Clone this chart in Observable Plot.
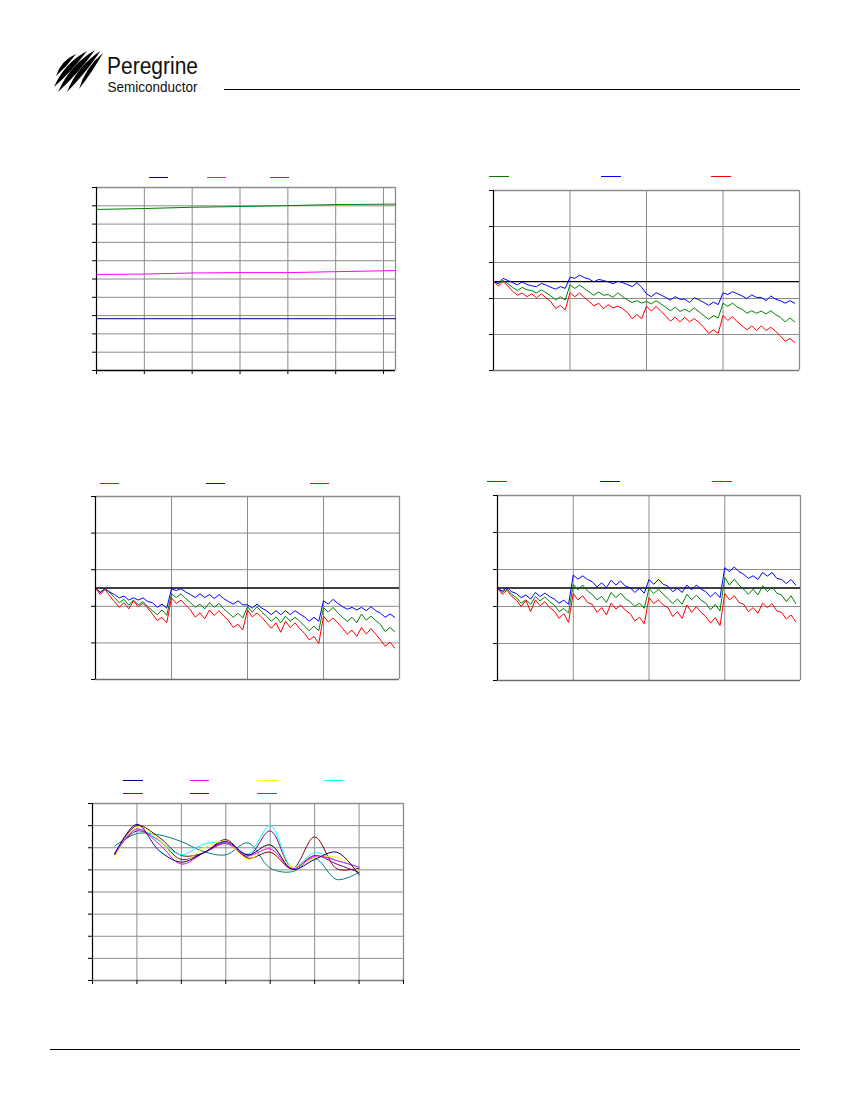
<!DOCTYPE html>
<html><head><meta charset="utf-8">
<script src="https://cdn.jsdelivr.net/npm/d3@7"></script>
<script src="https://cdn.jsdelivr.net/npm/@observablehq/plot@0.6"></script>
<style>
html,body{margin:0;padding:0;background:#fff;}
#page{position:relative;width:850px;height:1100px;overflow:hidden;background:#fff;}
.chart{position:absolute;}
.sw{position:absolute;height:0;border-top:1.4px solid;}
</style></head><body><div id="page">
<svg id="hdr" width="850" height="1100" style="position:absolute;left:0;top:0">
  <g id="wing" fill="#000"></g>
  <text x="107" y="73.5" font-family="'Liberation Sans Narrow','Arial Narrow','Liberation Sans',sans-serif" font-size="23" textLength="91" lengthAdjust="spacingAndGlyphs" fill="#111">Peregrine</text>
  <text x="107.5" y="92" font-family="'Liberation Sans Narrow','Arial Narrow','Liberation Sans',sans-serif" font-size="14.5" textLength="90" lengthAdjust="spacingAndGlyphs" fill="#111">Semiconductor</text>
  <line x1="224" y1="89.5" x2="800" y2="89.5" stroke="#000" stroke-width="1"/>
  <line x1="50" y1="1049.5" x2="800" y2="1049.5" stroke="#000" stroke-width="1"/>
</svg>
</div>
<script>
// ---------- Chart 1 (top left) ----------
const c1X = [0, 1, 2, 3, 4, 5, 6.25];
const c1Navy = [2.83, 2.83, 2.83, 2.83, 2.83, 2.83, 2.83];
const c1Magenta = [5.25, 5.27, 5.33, 5.35, 5.35, 5.40, 5.46];
const c1Green = [8.80, 8.85, 8.92, 8.96, 9.01, 9.07, 9.09];
const c1YTicks = [0, 1, 2, 3, 4, 5, 6, 7, 8, 9, 10];
const c1XTicks = [0, 1, 2, 3, 4, 5, 6];

// ---------- Chart 2 (top right) ----------
const c2Green = [2.47, 2.41, 2.50, 2.41, 2.31, 2.22, 2.31, 2.24, 2.22, 2.15, 2.24, 2.16, 2.07, 1.96, 2.05, 1.96,
  2.38, 2.28, 2.37, 2.28, 2.18, 2.09, 2.18, 2.09, 2.11, 2.03, 2.16, 2.05, 1.96, 1.89, 1.94, 1.87,
  1.92, 1.85, 1.94, 1.85, 1.76, 1.66, 1.76, 1.64, 1.70, 1.63, 1.74, 1.63, 1.52, 1.42, 1.52, 1.46,
  1.87, 1.78, 1.87, 1.76, 1.70, 1.59, 1.66, 1.59, 1.65, 1.57, 1.66, 1.55, 1.48, 1.35, 1.46, 1.35];
const c2Blue = [2.47, 2.42, 2.56, 2.50, 2.44, 2.38, 2.46, 2.39, 2.35, 2.33, 2.42, 2.37, 2.31, 2.26, 2.33, 2.28,
  2.59, 2.56, 2.65, 2.58, 2.54, 2.46, 2.53, 2.50, 2.46, 2.41, 2.48, 2.44, 2.39, 2.33, 2.44, 2.31,
  2.13, 2.05, 2.16, 2.10, 2.03, 1.96, 2.05, 1.98, 1.98, 1.89, 2.02, 1.96, 1.89, 1.81, 1.90, 1.83,
  2.16, 2.11, 2.19, 2.13, 2.07, 2.00, 2.10, 2.03, 2.03, 1.94, 2.07, 1.98, 1.94, 1.87, 1.94, 1.87];
const c2Red = [2.47, 2.35, 2.47, 2.35, 2.20, 2.09, 2.15, 2.05, 2.13, 2.02, 2.13, 2.02, 1.91, 1.72, 1.81, 1.68,
  2.16, 2.05, 2.15, 2.03, 1.92, 1.79, 1.87, 1.72, 1.83, 1.74, 1.79, 1.72, 1.61, 1.44, 1.55, 1.44,
  1.79, 1.65, 1.78, 1.65, 1.52, 1.37, 1.48, 1.35, 1.48, 1.35, 1.44, 1.33, 1.20, 1.03, 1.13, 1.03,
  1.53, 1.39, 1.50, 1.35, 1.24, 1.13, 1.24, 1.11, 1.24, 1.11, 1.20, 1.09, 0.96, 0.81, 0.89, 0.78];
const c2Ref = 2.47;

// ---------- Chart 3 (middle left) ----------
const c3Green = [2.50, 2.39, 2.48, 2.37, 2.24, 2.10, 2.19, 2.03, 2.17, 2.04, 2.13, 1.99, 1.88, 1.77, 1.90, 1.75,
  2.34, 2.24, 2.34, 2.21, 2.10, 1.97, 2.06, 1.93, 2.10, 1.97, 2.08, 1.93, 1.82, 1.70, 1.81, 1.68,
  1.99, 1.84, 1.99, 1.84, 1.73, 1.59, 1.71, 1.55, 1.73, 1.59, 1.70, 1.59, 1.46, 1.33, 1.46, 1.33,
  1.97, 1.84, 1.97, 1.82, 1.70, 1.59, 1.70, 1.55, 1.79, 1.62, 1.73, 1.61, 1.50, 1.31, 1.42, 1.31];
const c3Blue = [2.50, 2.37, 2.48, 2.39, 2.32, 2.23, 2.28, 2.17, 2.23, 2.17, 2.23, 2.13, 2.10, 1.97, 2.06, 1.95,
  2.48, 2.43, 2.48, 2.39, 2.32, 2.24, 2.34, 2.24, 2.32, 2.21, 2.32, 2.21, 2.13, 2.06, 2.15, 2.04,
  2.04, 1.95, 2.06, 1.95, 1.88, 1.77, 1.88, 1.77, 1.88, 1.77, 1.88, 1.79, 1.71, 1.59, 1.70, 1.59,
  2.15, 2.06, 2.19, 2.08, 1.99, 1.92, 1.97, 1.90, 1.97, 1.88, 1.99, 1.88, 1.81, 1.70, 1.79, 1.70];
const c3Red = [2.50, 2.32, 2.46, 2.28, 2.13, 1.97, 2.10, 1.93, 2.15, 1.99, 2.08, 1.95, 1.79, 1.61, 1.70, 1.55,
  2.23, 2.08, 2.17, 2.03, 1.90, 1.70, 1.82, 1.66, 1.90, 1.75, 1.88, 1.73, 1.61, 1.42, 1.51, 1.35,
  1.90, 1.71, 1.82, 1.70, 1.55, 1.40, 1.55, 1.29, 1.59, 1.42, 1.55, 1.39, 1.26, 1.08, 1.18, 0.98,
  1.73, 1.57, 1.68, 1.55, 1.40, 1.24, 1.35, 1.18, 1.42, 1.24, 1.39, 1.24, 1.08, 0.91, 1.02, 0.86];
const c3Ref = 2.5;

// ---------- Chart 4 (middle right) ----------
const c4Green = [2.50, 2.38, 2.47, 2.33, 2.24, 2.09, 2.18, 2.06, 2.27, 2.15, 2.26, 2.13, 2.04, 1.86, 1.95, 1.82,
  2.60, 2.45, 2.58, 2.42, 2.33, 2.18, 2.27, 2.11, 2.38, 2.24, 2.36, 2.22, 2.13, 2.00, 2.09, 1.95,
  2.49, 2.35, 2.47, 2.33, 2.22, 2.08, 2.20, 2.06, 2.33, 2.18, 2.31, 2.17, 2.09, 1.91, 2.06, 1.88,
  2.78, 2.58, 2.74, 2.58, 2.47, 2.33, 2.47, 2.31, 2.56, 2.40, 2.53, 2.36, 2.31, 2.13, 2.29, 2.08];
const c4Blue = [2.50, 2.42, 2.51, 2.40, 2.35, 2.24, 2.31, 2.20, 2.38, 2.27, 2.36, 2.27, 2.20, 2.09, 2.17, 2.06,
  2.85, 2.74, 2.83, 2.73, 2.67, 2.53, 2.64, 2.51, 2.71, 2.58, 2.69, 2.55, 2.51, 2.38, 2.49, 2.36,
  2.73, 2.60, 2.73, 2.60, 2.55, 2.40, 2.49, 2.38, 2.58, 2.45, 2.58, 2.47, 2.40, 2.26, 2.38, 2.24,
  3.05, 2.94, 3.07, 2.94, 2.87, 2.76, 2.83, 2.73, 2.92, 2.82, 2.92, 2.76, 2.73, 2.62, 2.73, 2.58];
const c4Red = [2.50, 2.33, 2.44, 2.27, 2.17, 2.00, 2.17, 1.86, 2.18, 2.02, 2.13, 1.97, 1.88, 1.68, 1.81, 1.57,
  2.35, 2.18, 2.29, 2.11, 2.06, 1.84, 1.97, 1.77, 2.09, 1.93, 2.04, 1.90, 1.81, 1.61, 1.71, 1.53,
  2.24, 2.08, 2.18, 2.04, 1.97, 1.73, 1.86, 1.68, 2.04, 1.84, 2.00, 1.84, 1.73, 1.55, 1.70, 1.48,
  2.35, 2.18, 2.29, 2.11, 2.06, 1.86, 1.97, 1.82, 2.09, 1.97, 2.08, 1.88, 1.84, 1.66, 1.77, 1.59];
const c4Ref = 2.5;

const stepTicks = [0, 1, 2, 3, 4];
const stepYTicks = [0, 1, 2, 3, 4, 5];

// ---------- Chart 5 (bottom) ----------
const c5X = [0.5, 1, 1.5, 2, 2.5, 3, 3.5, 4, 4.5, 5, 5.5, 6];
const c5Navy = [5.72, 7.06, 5.87, 5.35, 5.77, 6.28, 5.68, 6.13, 5.02, 5.47, 5.80, 4.77];
const c5Magenta = [5.68, 6.85, 6.17, 5.26, 5.77, 6.22, 5.65, 5.95, 5.05, 5.62, 5.42, 5.12];
const c5Yellow = [5.56, 6.94, 6.37, 5.35, 5.98, 6.28, 5.45, 6.13, 5.11, 5.53, 5.57, 4.92];
const c5Cyan = [5.77, 6.82, 6.32, 5.68, 6.16, 6.22, 5.72, 7.00, 5.11, 5.77, 5.42, 5.12];
const c5Purple = [5.77, 6.76, 6.32, 5.47, 5.77, 6.19, 5.62, 6.76, 5.08, 5.65, 5.26, 4.89];
const c5DarkRed = [5.71, 7.00, 6.47, 5.65, 5.77, 6.37, 5.53, 5.80, 5.05, 6.49, 5.05, 5.08];
const c5Teal = [6.08, 6.64, 6.58, 6.28, 5.83, 5.68, 6.22, 5.08, 4.92, 5.53, 4.56, 4.89];
const c5XTicks = [0, 1, 2, 3, 4, 5, 6, 7];
const c5YTicks = [0, 1, 2, 3, 4, 5, 6, 7, 8];

const GRID = "#8c8c8c";
const page = document.getElementById("page");

function stepX(vals) { return vals.map((v, i) => i / 16); }

function makeChart(cfg) {
  const {left, top, width, height, mt, mr, mb, ml, xd, yd, xt, yt, xTickMarks, series, refY, curve, bottom} = cfg;
  const inner = (t, d) => t.filter(v => v > d[0] && v < d[1]);
  const marks = [
    Plot.gridX({ticks: inner(xt, xd), stroke: GRID, strokeOpacity: 1}),
    Plot.gridY({ticks: inner(yt, yd), stroke: GRID, strokeOpacity: 1}),
    Plot.ruleX([xd[1]], {stroke: GRID, strokeWidth: 1.3}),
    Plot.ruleY([yd[1]], {stroke: GRID, strokeWidth: 1.3})
  ];
  if (refY != null) marks.push(Plot.ruleY([refY], {stroke: "#000", strokeWidth: 1.3}));
  for (const s of series) {
    const rows = s.y.map((v, i) => ({x: s.x[i], y: v}));
    marks.push(Plot.line(rows, {x: "x", y: "y", stroke: s.color, strokeWidth: 1, curve: curve || "linear"}));
  }
  marks.push(Plot.ruleY([yd[0]], {stroke: bottom, strokeWidth: 1.5}));
  marks.push(Plot.ruleX([xd[0]], {stroke: "#000", strokeWidth: 1.2}));
  marks.push(Plot.axisY({ticks: yt, tickSize: 4, fill: "none", stroke: "#000", label: null}));
  if (xTickMarks) marks.push(Plot.axisX({ticks: xt, tickSize: 4, fill: "none", stroke: "#000", label: null}));
  const svg = Plot.plot({
    width, height, marginTop: mt, marginRight: mr, marginBottom: mb, marginLeft: ml,
    x: {domain: xd, label: null, axis: xTickMarks ? undefined : null},
    y: {domain: yd, label: null},
    style: {background: "transparent", overflow: "visible"},
    marks
  });
  const div = document.createElement("div");
  div.className = "chart";
  div.style.left = left + "px";
  div.style.top = top + "px";
  div.appendChild(svg);
  page.appendChild(div);
}

function swatch(x1, x2, y, color) {
  const d = document.createElement("div");
  d.className = "sw";
  d.style.left = x1 + "px";
  d.style.top = y + "px";
  d.style.width = (x2 - x1) + "px";
  d.style.borderTopColor = color;
  page.appendChild(d);
}

const NAVY = "#000080", MAGENTA = "#FF00FF", GREEN = "#008000", BLUE = "#0000FF", RED = "#FF0000",
  YELLOW = "#FFFF00", CYAN = "#00FFFF", PURPLE = "#800080", DARKRED = "#800000", TEAL = "#008080";

// Chart 1
makeChart({left: 60, top: 170, width: 350, height: 215, mt: 17, mr: 15, mb: 15, ml: 36,
  xd: [0, 6.25], yd: [0, 10], xt: c1XTicks, yt: c1YTicks, xTickMarks: true, bottom: "#000",
  series: [{x: c1X, y: c1Navy, color: NAVY}, {x: c1X, y: c1Magenta, color: MAGENTA}, {x: c1X, y: c1Green, color: GREEN}]});
swatch(149, 168, 176.5, NAVY); swatch(207, 226, 176.5, MAGENTA); swatch(270, 289, 176.5, GREEN);

// Chart 2
makeChart({left: 450, top: 170, width: 360, height: 210, mt: 20, mr: 11, mb: 10, ml: 43,
  xd: [0, 4], yd: [0, 5], xt: stepTicks, yt: stepYTicks, xTickMarks: false, bottom: "#7a7a7a", refY: c2Ref,
  series: [{x: stepX(c2Green), y: c2Green, color: GREEN}, {x: stepX(c2Blue), y: c2Blue, color: BLUE}, {x: stepX(c2Red), y: c2Red, color: RED}]});
swatch(489, 509, 175.5, GREEN); swatch(601, 621, 175.5, BLUE); swatch(711, 731, 175.5, RED);

// Chart 3
makeChart({left: 55, top: 475, width: 355, height: 215, mt: 21, mr: 11, mb: 11, ml: 40,
  xd: [0, 4], yd: [0, 5], xt: stepTicks, yt: stepYTicks, xTickMarks: false, bottom: "#6e6e6e", refY: c3Ref,
  series: [{x: stepX(c3Green), y: c3Green, color: GREEN}, {x: stepX(c3Blue), y: c3Blue, color: BLUE}, {x: stepX(c3Red), y: c3Red, color: RED}]});
swatch(100, 119, 482.5, GREEN); swatch(206, 225, 482.5, BLUE); swatch(310, 329, 482.5, RED);

// Chart 4
makeChart({left: 455, top: 475, width: 355, height: 215, mt: 20, mr: 10, mb: 10, ml: 42,
  xd: [0, 4], yd: [0, 5], xt: stepTicks, yt: stepYTicks, xTickMarks: false, bottom: "#6e6e6e", refY: c4Ref,
  series: [{x: stepX(c4Green), y: c4Green, color: GREEN}, {x: stepX(c4Blue), y: c4Blue, color: BLUE}, {x: stepX(c4Red), y: c4Red, color: RED}]});
swatch(487, 507, 480.5, GREEN); swatch(600, 620, 480.5, BLUE); swatch(712, 732, 480.5, RED);

// Chart 5
makeChart({left: 50, top: 785, width: 365, height: 205, mt: 18, mr: 12, mb: 10, ml: 42,
  xd: [0, 7], yd: [0, 8], xt: c5XTicks, yt: c5YTicks, xTickMarks: true, bottom: "#7a7a7a", curve: "catmull-rom",
  series: [
    {x: c5X, y: c5Teal, color: TEAL}, {x: c5X, y: c5DarkRed, color: DARKRED}, {x: c5X, y: c5Purple, color: PURPLE},
    {x: c5X, y: c5Cyan, color: CYAN}, {x: c5X, y: c5Yellow, color: YELLOW}, {x: c5X, y: c5Magenta, color: MAGENTA},
    {x: c5X, y: c5Navy, color: NAVY}]});
swatch(123, 143, 780, NAVY); swatch(190, 209, 780, MAGENTA); swatch(257, 277, 780, YELLOW); swatch(324, 343, 780, CYAN);
swatch(123, 143, 793, PURPLE); swatch(190, 209, 793, DARKRED); swatch(257, 277, 793, TEAL);

// Logo wing strokes (decoration)
const wingStrokes = [
  [56, 76, 76, 54, 4.2, -2.5],
  [54, 87, 87, 51, 5.5, -3],
  [58, 92, 95, 50, 6, -3],
  [67, 92, 100.5, 51, 5.5, -3],
  [79, 89, 103, 53, 4.2, -2.5]
];
const g = document.getElementById("wing");
for (const [bx, by, tx, ty, w, bow] of wingStrokes) {
  const mx = (bx + tx) / 2, my = (by + ty) / 2, dx = tx - bx, dy = ty - by, L = Math.hypot(dx, dy);
  const nx = -dy / L, ny = dx / L;
  const cx = mx + nx * bow, cy = my + ny * bow;
  const p = document.createElementNS("http://www.w3.org/2000/svg", "path");
  p.setAttribute("d", `M${bx},${by} Q${cx + nx * w},${cy + ny * w} ${tx},${ty} Q${cx - nx * w},${cy - ny * w} ${bx},${by}Z`);
  g.appendChild(p);
}
</script></body></html>
